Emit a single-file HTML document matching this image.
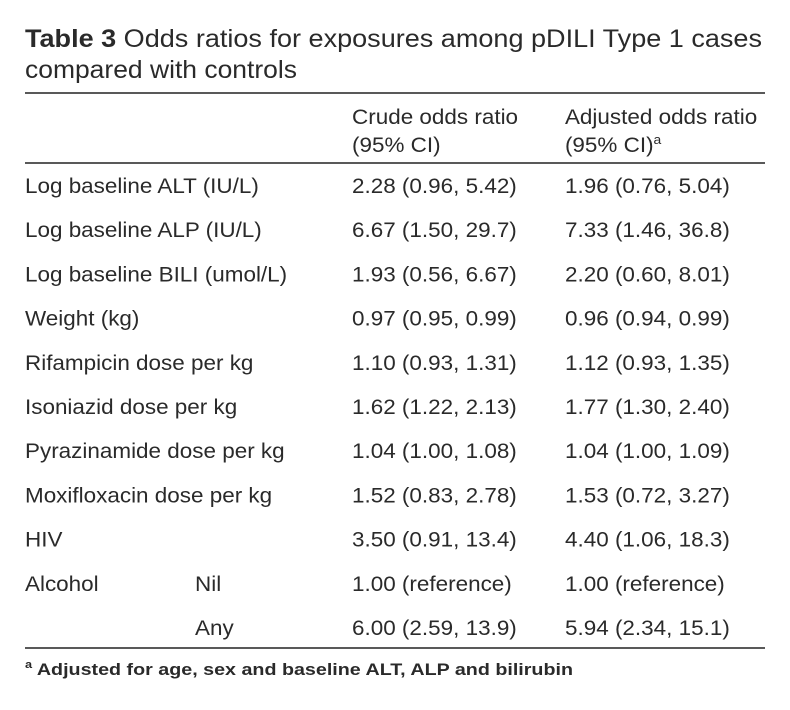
<!DOCTYPE html>
<html><head><meta charset="utf-8"><style>
html,body{margin:0;padding:0;background:#fff;}
svg{display:block;font-family:"Liberation Sans",sans-serif;}
text{fill:#2a2a2a;}
.c{font-size:21px;}
</style></head><body>
<svg width="790" height="710">
<text x="25" y="47" font-size="25" textLength="737" lengthAdjust="spacingAndGlyphs"><tspan font-weight="bold">Table 3</tspan> Odds ratios for exposures among pDILI Type 1 cases</text>
<text x="25" y="78" font-size="25" textLength="272" lengthAdjust="spacingAndGlyphs">compared with controls</text>
<line x1="25" y1="93" x2="765" y2="93" stroke="#222" stroke-width="1.5"/>
<g transform="scale(1.07,1)">
<text class="c" x="329" y="124">Crude odds ratio</text>
<text class="c" x="329" y="152">(95% CI)</text>
<text class="c" x="528" y="124">Adjusted odds ratio</text>
<text class="c" x="528" y="152">(95% CI)<tspan font-size="13" dy="-8">a</tspan></text>
<g id="rows"></g>
</g>
<line x1="25" y1="163" x2="765" y2="163" stroke="#222" stroke-width="1.5"/>
<line x1="25" y1="648" x2="765" y2="648" stroke="#222" stroke-width="1.5"/>
<text x="25" y="675" font-size="17" font-weight="bold" textLength="548" lengthAdjust="spacingAndGlyphs"><tspan font-size="11" dy="-7">a</tspan><tspan dy="7"> Adjusted for age, sex and baseline ALT, ALP and bilirubin</tspan></text>
</svg>
<script>
const labels=["Log baseline ALT (IU/L)","Log baseline ALP (IU/L)","Log baseline BILI (umol/L)","Weight (kg)","Rifampicin dose per kg","Isoniazid dose per kg","Pyrazinamide dose per kg","Moxifloxacin dose per kg","HIV","Alcohol",""];
const sub=["","","","","","","","","","Nil","Any"];
const crude=["2.28 (0.96, 5.42)","6.67 (1.50, 29.7)","1.93 (0.56, 6.67)","0.97 (0.95, 0.99)","1.10 (0.93, 1.31)","1.62 (1.22, 2.13)","1.04 (1.00, 1.08)","1.52 (0.83, 2.78)","3.50 (0.91, 13.4)","1.00 (reference)","6.00 (2.59, 13.9)"];
const adjusted=["1.96 (0.76, 5.04)","7.33 (1.46, 36.8)","2.20 (0.60, 8.01)","0.96 (0.94, 0.99)","1.12 (0.93, 1.35)","1.77 (1.30, 2.40)","1.04 (1.00, 1.09)","1.53 (0.72, 3.27)","4.40 (1.06, 18.3)","1.00 (reference)","5.94 (2.34, 15.1)"];
const g=document.getElementById('rows');
const NS="http://www.w3.org/2000/svg";
const S=1.07;
function t(x,y,s,name){const e=document.createElementNS(NS,'text');e.setAttribute('x',x/S);e.setAttribute('y',y);e.setAttribute('class','c');e.textContent=s;


g.appendChild(e);}
labels.forEach((l,i)=>{const y=193+i*44.2;
if(l)t(25,y,l,'row-label');
if(sub[i])t(195,y,sub[i],'row-sublabel');
t(352,y,crude[i],'crude-odds-ratio');
t(565,y,adjusted[i],'adjusted-odds-ratio');});
</script>
</body></html>
